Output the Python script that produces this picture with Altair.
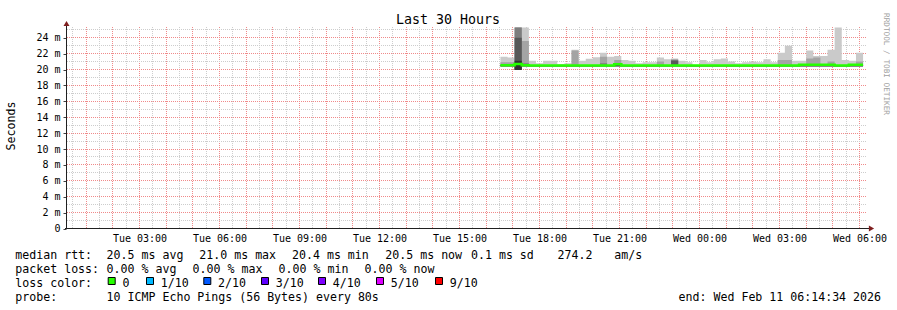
import math
import altair as alt
import pandas as pd

FONT = "DejaVu Sans Mono"

# ---------------- data ----------------
# x values are hours since Tue 2026-02-10 00:00
t_start = 14 / 60 + 34 / 3600          # Tue 00:14:34
t_end = t_start + 30                    # Wed 06:14:34
bin_len = 16 / 60                       # 960 s consolidation step
first_bin = 16 + 32 / 60                # first bin with data (Tue 16:32)
n_bins = 51
bin_start = [first_bin + i * bin_len for i in range(n_bins)]

# smoke (ms): outermost band top = max ping
smoke_max = [21.6, 21.5, 25.3, 25.3, 21.1, 20.8, 21.1, 21.1, 20.7, 20.8,
             22.5, 21.1, 21.35, 21.55, 22.1, 21.6, 21.7, 21.2, 21.1, 20.8,
             20.9, 20.9, 21.5, 21.3, 21.4, 21.1, 20.9, 20.6, 21.2, 20.9,
             21.3, 21.4, 21.0, 20.8, 20.9, 21.0, 20.9, 21.3, 20.9, 22.1,
             23.0, 21.1, 21.1, 22.4, 21.7, 21.7, 22.5, 25.3, 21.2, 21.1, 22.1]
band2_top = [20.9, 20.9, 25.3, 23.6, 20.5, 20.5, 20.5, 20.5, 20.5, 20.5,
             22.4, 20.5, 20.5, 20.5, 21.6, 20.5, 21.2, 20.5, 20.5, 20.5,
             20.5, 20.5, 21.0, 20.5, 21.3, 20.5, 20.5, 20.5, 20.5, 20.5,
             20.5, 20.5, 20.5, 20.5, 20.5, 20.5, 20.5, 20.5, 20.5, 21.2,
             21.2, 20.5, 20.5, 21.4, 21.5, 20.5, 21.0, 20.5, 20.5, 20.5, 21.0]
band3_top = [20.5, 20.5, 25.3, 20.8, 20.5, 20.5, 20.5, 20.5, 20.5, 20.5,
             20.5, 20.5, 20.5, 20.5, 20.8, 20.5, 20.5, 20.5, 20.5, 20.5,
             20.5, 20.5, 20.5, 20.5, 21.2, 20.5, 20.5, 20.5, 20.5, 20.5,
             20.5, 20.5, 20.5, 20.5, 20.5, 20.5, 20.5, 20.5, 20.5, 20.5,
             20.5, 20.5, 20.5, 20.5, 20.5, 20.5, 20.5, 20.5, 20.5, 20.5, 20.5]
band4_top = [20.5, 20.5, 24.0, 20.5, 20.5, 20.5, 20.5, 20.5, 20.5, 20.5,
             20.5, 20.5, 20.5, 20.5, 20.5, 20.5, 20.5, 20.5, 20.5, 20.5,
             20.5, 20.5, 20.5, 20.5, 21.1, 20.5, 20.5, 20.5, 20.5, 20.5,
             20.5, 20.5, 20.5, 20.5, 20.5, 20.5, 20.5, 20.5, 20.5, 20.5,
             20.5, 20.5, 20.5, 20.5, 20.5, 20.5, 20.5, 20.5, 20.5, 20.5, 20.5]
band5_top = [20.5, 20.5, 21.1, 20.5, 20.5, 20.5, 20.5, 20.5, 20.5, 20.5,
             20.5, 20.5, 20.5, 20.5, 20.5, 20.5, 20.5, 20.5, 20.5, 20.5,
             20.5, 20.5, 20.5, 20.5, 20.5, 20.5, 20.5, 20.5, 20.5, 20.5,
             20.5, 20.5, 20.5, 20.5, 20.5, 20.5, 20.5, 20.5, 20.5, 20.5,
             20.5, 20.5, 20.5, 20.5, 20.5, 20.5, 20.5, 20.5, 20.5, 20.5, 20.5]
smoke_min = [20.4, 20.4, 19.95, 20.4, 20.4, 20.4, 20.4, 20.4, 20.4, 20.4,
             20.4, 20.4, 20.4, 20.4, 20.4, 20.4, 20.4, 20.4, 20.4, 20.4,
             20.4, 20.4, 20.4, 20.4, 20.4, 20.4, 20.4, 20.4, 20.4, 20.4,
             20.4, 20.4, 20.4, 20.4, 20.4, 20.4, 20.4, 20.4, 20.4, 20.4,
             20.4, 20.4, 20.4, 20.4, 20.4, 20.4, 20.4, 20.4, 20.4, 20.4, 20.4]
median_rtt = [20.55, 20.55, 20.7, 20.55, 20.5, 20.5, 20.5, 20.5, 20.5, 20.5,
              20.5, 20.5, 20.5, 20.5, 20.5, 20.5, 20.65, 20.5, 20.5, 20.5,
              20.5, 20.5, 20.5, 20.5, 20.5, 20.5, 20.5, 20.5, 20.5, 20.5,
              20.5, 20.5, 20.5, 20.5, 20.5, 20.5, 20.5, 20.5, 20.5, 20.5,
              20.5, 20.5, 20.6, 20.6, 20.6, 20.6, 20.6, 20.5, 20.5, 20.6, 20.6]

x_tick_hours = [3, 6, 9, 12, 15, 18, 21, 24, 27, 30]
x_tick_labels = ["Tue 03:00", "Tue 06:00", "Tue 09:00", "Tue 12:00", "Tue 15:00",
                 "Tue 18:00", "Tue 21:00", "Wed 00:00", "Wed 03:00", "Wed 06:00"]
y_ticks = [0, 2, 4, 6, 8, 10, 12, 14, 16, 18, 20, 22, 24]
y_tick_labels = ["0", "2 m", "4 m", "6 m", "8 m", "10 m", "12 m", "14 m",
                 "16 m", "18 m", "20 m", "22 m", "24 m"]

title_text = "Last 30 Hours"
y_title = "Seconds"
watermark = "RRDTOOL / TOBI OETIKER"
row1 = ["median rtt:", "20.5 ms avg", "21.0 ms max", "20.4 ms min", "20.5 ms now",
        "0.1 ms sd", "274.2", "am/s"]
row2 = ["packet loss:", "0.00 % avg", "0.00 % max", "0.00 % min", "0.00 % now"]
row3 = ["loss color:"]
loss_labels = ["0", "1/10", "2/10", "3/10", "4/10", "5/10", "9/10"]
loss_colors = ["#26ff00", "#00b8ff", "#0059ff", "#5e00ff", "#7e00ff", "#dd00ff", "#ff0000"]
row4 = ["probe:", "10 ICMP Echo Pings (56 Bytes) every 80s"]
end_text = "end: Wed Feb 11 06:14:34 2026"

# ---------------- layout (pixels) ----------------
OX, OY = 66, 27
W, H = 800, 201.5
Y_MAX = 25.35
row1_x = [16, 107.3, 200, 292.7, 386, 471.7, 558.3, 615]
row2_x = [16, 107.3, 193.3, 279.3, 365.3]
row4_x = [16, 107.3]
sq_x = [107.7, 146, 203.3, 261, 318, 376, 435]
row_base = [258.5, 272.5, 286.5, 300.5]

xs = alt.Scale(domain=[t_start, t_end], nice=False, zero=False)
ys = alt.Scale(domain=[0, Y_MAX], nice=False, zero=False)


def nbsp(s):
    return s.replace(" ", "\u00a0")


def ternary(vals, labels):
    expr = "''"
    for v, l in reversed(list(zip(vals, labels))):
        expr = f"datum.value == {v} ? '{l}' : ({expr})"
    return expr


X_AXIS = alt.Axis(
    values=x_tick_hours, labelExpr=ternary(x_tick_hours, x_tick_labels),
    domain=False, grid=False, ticks=False, tickSize=0, labelPadding=5,
    labelFont=FONT, labelFontSize=10, labelColor="black", title=None,
    labelFlush=False, labelOverlap=False)
Y_AXIS = alt.Axis(
    values=y_ticks, labelExpr=ternary(y_ticks, y_tick_labels),
    domain=False, grid=False, ticks=True, tickSize=3, tickColor="#404040",
    labelPadding=3, labelFont=FONT, labelFontSize=10, labelColor="black",
    title=None, labelFlush=False, labelOverlap=False)


def xenc(f):
    return alt.X(f, type="quantitative", scale=xs, axis=X_AXIS)


def yenc(f):
    return alt.Y(f, type="quantitative", scale=ys, axis=Y_AXIS)


# ---------------- grid (snapped to pixel centres like rrdtool) ----------------
def snap_x(h):
    p = (h - t_start) * W / (t_end - t_start)
    return t_start + (math.floor(p) + 0.5) * (t_end - t_start) / W


def snap_y(v):
    p = H - v * H / Y_MAX
    return (H - (math.floor(p) + 0.5)) * Y_MAX / H


grid_v = pd.DataFrame({
    "t": [snap_x(h / 2) for h in range(1, 61)],
    "kind": ["major" if h % 2 == 0 else "minor" for h in range(1, 61)],
})
grid_h = pd.DataFrame({
    "v": [snap_y(v) for v in range(1, 26)],
    "kind": ["major" if v % 2 == 0 else "minor" for v in range(1, 26)],
})

grid_color = alt.Color(
    "kind:N", legend=None,
    scale=alt.Scale(domain=["minor", "major"], range=["#cdcdcd", "#f08a8a"]))

grid_layers = [
    alt.Chart(grid_v).mark_rule(strokeDash=[1, 1], strokeWidth=1, opacity=1).encode(
        x=xenc("t"), color=grid_color, order=alt.Order("kind:N", sort="descending")),
    alt.Chart(grid_h).mark_rule(strokeDash=[1, 1], strokeWidth=1, opacity=1).encode(
        y=yenc("v"), color=grid_color, order=alt.Order("kind:N", sort="descending")),
]

# ---------------- smoke + median ----------------
def ext(a):
    return list(a) + [a[-1]]

smoke = pd.DataFrame({
    "t": list(bin_start) + [first_bin + n_bins * bin_len],
    "lo": ext(smoke_min),
    "b1": ext(smoke_max),
    "b2": ext(band2_top),
    "b3": ext(band3_top),
    "b4": ext(band4_top),
    "b5": ext(band5_top),
    "med": ext(median_rtt),
})

band_colors = [("b1", "#cacaca"), ("b2", "#a4a4a4"), ("b3", "#7e7e7e"),
               ("b4", "#585858"), ("b5", "#323232")]
smoke_layers = [
    alt.Chart(smoke).mark_area(interpolate="step-after", fill=c, color=c, opacity=1).encode(
        x=xenc("t"), y=yenc(col), y2="lo:Q")
    for col, c in band_colors
]
median_layer = alt.Chart(smoke).mark_line(
    interpolate="step-after", stroke="#26ff00", color="#26ff00", strokeWidth=2.5).encode(
    x=xenc("t"), y=yenc("med"))

# ---------------- axis lines & arrows ----------------
one = pd.DataFrame({"a": [0]})
AX_C = "#202020"
ARROW_C = "#7f1f1f"
axis_lines = [
    alt.Chart(one).mark_rule(color=AX_C, strokeWidth=1).encode(
        x=alt.value(0.5), y=alt.value(-2), y2=alt.value(H)),
    alt.Chart(one).mark_rule(color=AX_C, strokeWidth=1).encode(
        y=alt.value(H), x=alt.value(-1), x2=alt.value(803)),
    alt.Chart(one).mark_point(shape="triangle-up", filled=True, size=36, color=ARROW_C, opacity=1).encode(
        x=alt.value(0.5), y=alt.value(-3.5)),
    alt.Chart(one).mark_point(shape="triangle-right", filled=True, size=36, color=ARROW_C, opacity=1).encode(
        x=alt.value(805.5), y=alt.value(H)),
]

# ---------------- texts ----------------
def txt_layer(items, **kw):
    df = pd.DataFrame(items, columns=["text", "px", "py"])
    df["text"] = df["text"].map(nbsp)
    df["px"] = df["px"] - OX
    df["py"] = df["py"] - OY
    return alt.Chart(df).mark_text(font=FONT, **kw).encode(
        x=alt.X("px:Q", scale=None, axis=None),
        y=alt.Y("py:Q", scale=None, axis=None),
        text="text:N")

legend_items = []
for s, x in zip(row1, row1_x):
    legend_items.append((s, x - 0.7, row_base[0]))
for s, x in zip(row2, row2_x):
    legend_items.append((s, x - 0.7, row_base[1]))
legend_items.append((row3[0], 16 - 0.7, row_base[2]))
for s, x in zip(loss_labels, sq_x):
    legend_items.append((s, x + 14.7, row_base[2]))
for s, x in zip(row4, row4_x):
    legend_items.append((s, x - 0.7, row_base[3]))

text_layers = [
    txt_layer([(title_text, 448, 24)], fontSize=13.3, align="center", baseline="alphabetic", color="black"),
    txt_layer([(y_title, 11.5, 126)], fontSize=11.6, align="center", baseline="middle", angle=270, color="black"),
    txt_layer([(watermark, 886, 64)], fontSize=7.7, align="center", baseline="middle", angle=90, color="#a0a0a0"),
    txt_layer(legend_items, fontSize=11.6, align="left", baseline="alphabetic", color="black"),
    txt_layer([(end_text, 881, row_base[3])], fontSize=11.6, align="right", baseline="alphabetic", color="black"),
]

sq_df = pd.DataFrame({"label": loss_labels, "color": loss_colors})
sq_df["x1"] = [x - OX + 0.5 for x in sq_x]
sq_df["x2"] = sq_df["x1"] + 7
sq_df["y1"] = 277.5 - OY
sq_df["y2"] = 284.5 - OY
squares = alt.Chart(sq_df).mark_rect(stroke="black", strokeWidth=1).encode(
    x=alt.X("x1:Q", scale=None, axis=None), x2="x2:Q",
    y=alt.Y("y1:Q", scale=None, axis=None), y2="y2:Q",
    fill=alt.Fill("color:N", scale=None, legend=None))

chart = alt.layer(
    *grid_layers, *smoke_layers, median_layer, *axis_lines,
    *text_layers, squares
).resolve_scale(color="independent", fill="independent").properties(
    width=W, height=H,
    padding={"left": OX, "top": OY, "right": 897 - OX - W, "bottom": 310 - OY - H},
    autosize=alt.AutoSizeParams(type="none"),
    background="white",
).configure_view(stroke=None)

chart.save("out.html", embed_options={"renderer": "svg", "actions": False})
